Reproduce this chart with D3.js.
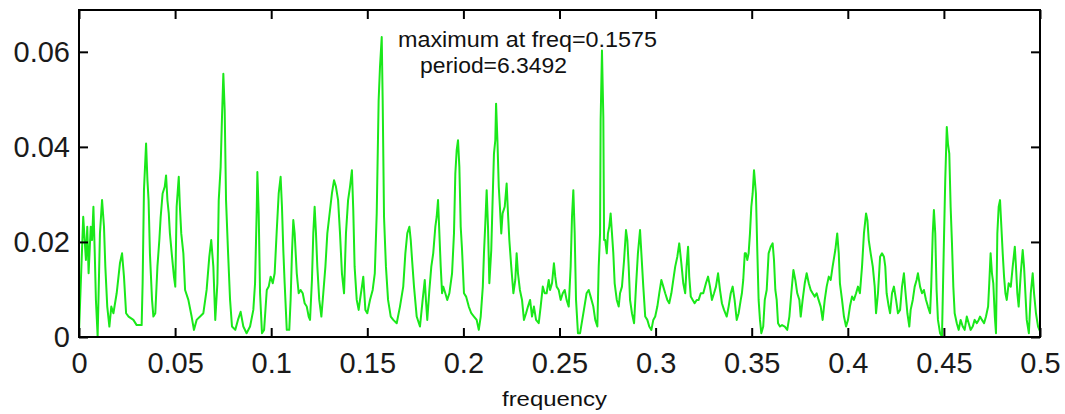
<!DOCTYPE html>
<html>
<head>
<meta charset="utf-8">
<script src="https://cdn.jsdelivr.net/npm/d3@7"></script>
<style>
  html, body { margin: 0; padding: 0; background: #fff; }
  svg { display: block; font-family: "Liberation Sans", Arial, sans-serif; }
</style>
</head>
<body>
<svg id="chart" width="1065" height="414"></svg>
<script>
// periodogram: [frequency, power]
const band1 = [[0,0.0010],[0.0022,0.0253],[0.0036,0.0162],[0.0043,0.0232],[0.0050,0.0134],[0.0061,0.0232],[0.0068,0.0204],[0.0075,0.0274],[0.0082,0.0176],[0.0088,0.0078],[0.0097,0.0001],[0.0109,0.0218],[0.0120,0.0288],[0.0130,0.0232],[0.0137,0.0148],[0.0147,0.0064],[0.0158,0.0022],[0.0168,0.0064],[0.0179,0.0050],[0.0196,0.0092],[0.0213,0.0155],[0.0224,0.0176],[0.0234,0.0127],[0.0245,0.0050],[0.0258,0.0043],[0.0283,0.0036],[0.0300,0.0025],[0.0326,0.0025],[0.0331,0.0113],[0.0338,0.0309],[0.0349,0.0407],[0.0356,0.0330],[0.0362,0.0288],[0.0369,0.0176],[0.0380,0.0078],[0.0387,0.0043],[0.0397,0.0050],[0.0408,0.0148],[0.0418,0.0204],[0.0425,0.0253],[0.0435,0.0302],[0.0446,0.0316],[0.0453,0.0340],[0.0460,0.0288],[0.0467,0.0260],[0.0473,0.0218],[0.0484,0.0169],[0.0494,0.0127],[0.0501,0.0106],[0.0508,0.0274],[0.0519,0.0337],[0.0525,0.0274],[0.0532,0.0218],[0.0543,0.0176],[0.0552,0.0099],[0.0569,0.0078],[0.0586,0.0043],[0.0598,0.0015],[0.0612,0.0036],[0.0630,0.0043],[0.0647,0.0050],[0.0664,0.0099],[0.0678,0.0169],[0.0688,0.0204],[0.0699,0.0148],[0.0709,0.0036],[0.0720,0.0113],[0.0727,0.0288],[0.0737,0.0358],[0.0744,0.0463],[0.0751,0.0554],[0.0758,0.0477],[0.0765,0.0288],[0.0775,0.0183],[0.0786,0.0078],[0.0796,0.0022],[0.0813,0.0015],[0.0827,0.0036],[0.0841,0.0053],[0.0855,0.0022],[0.0872,0.0008]];
const band2 = [[0.0890,0.0022],[0.0907,0.0057],[0.0916,0.0113],[0.0925,0.0274],[0.0928,0.0347],[0.0935,0.0260],[0.0942,0.0092],[0.0952,0.0008],[0.0963,0.0015],[0.0977,0.0099],[0.0987,0.0106],[0.0997,0.0127],[0.1008,0.0113],[0.1018,0.0134],[0.1029,0.0225],[0.1039,0.0302],[0.1049,0.0337],[0.1056,0.0274],[0.1063,0.0183],[0.1070,0.0113],[0.1081,0.0015],[0.1094,0.0015],[0.1101,0.0078],[0.1108,0.0176],[0.1115,0.0246],[0.1122,0.0218],[0.1133,0.0134],[0.1143,0.0092],[0.1153,0.0099],[0.1164,0.0092],[0.1174,0.0071],[0.1185,0.0064],[0.1195,0.0043],[0.1202,0.0036],[0.1212,0.0120],[0.1219,0.0218],[0.1226,0.0274],[0.1233,0.0218],[0.1240,0.0148],[0.1250,0.0078],[0.1261,0.0043],[0.1271,0.0092],[0.1282,0.0148],[0.1292,0.0218],[0.1302,0.0253],[0.1316,0.0302],[0.1327,0.0330],[0.1337,0.0316],[0.1348,0.0288],[0.1358,0.0218],[0.1368,0.0134],[0.1379,0.0092],[0.1389,0.0218],[0.1400,0.0288],[0.1410,0.0316],[0.1420,0.0351],[0.1427,0.0267],[0.1434,0.0148],[0.1445,0.0078],[0.1455,0.0057],[0.1462,0.0078],[0.1472,0.0106],[0.1479,0.0127],[0.1490,0.0057],[0.1500,0.0050],[0.1514,0.0078],[0.1528,0.0099],[0.1539,0.0134],[0.1549,0.0260],[0.1559,0.0498],[0.1566,0.0568],[0.1575,0.0631],[0.1580,0.0498],[0.1587,0.0253],[0.1597,0.0148],[0.1608,0.0078],[0.1622,0.0043],[0.1635,0.0036],[0.1653,0.0029],[0.1670,0.0064],[0.1687,0.0106],[0.1698,0.0176],[0.1708,0.0218],[0.1719,0.0232],[0.1726,0.0204],[0.1733,0.0162],[0.1743,0.0106],[0.1757,0.0043]];
const band3 = [[0.1774,0.0022],[0.1788,0.0078],[0.1799,0.0120],[0.1805,0.0078],[0.1812,0.0036],[0.1823,0.0099],[0.1833,0.0148],[0.1843,0.0176],[0.1854,0.0232],[0.1861,0.0253],[0.1868,0.0288],[0.1875,0.0218],[0.1882,0.0148],[0.1889,0.0092],[0.1895,0.0106],[0.1906,0.0092],[0.1916,0.0078],[0.1927,0.0092],[0.1941,0.0134],[0.1951,0.0218],[0.1958,0.0344],[0.1965,0.0393],[0.1972,0.0414],[0.1979,0.0358],[0.1986,0.0232],[0.1993,0.0183],[0.2003,0.0092],[0.2014,0.0085],[0.2028,0.0064],[0.2041,0.0050],[0.2055,0.0043],[0.2069,0.0036],[0.2080,0.0015],[0.2090,0.0043],[0.2101,0.0106],[0.2107,0.0176],[0.2114,0.0239],[0.2121,0.0309],[0.2128,0.0232],[0.2135,0.0113],[0.2145,0.0183],[0.2152,0.0288],[0.2159,0.0386],[0.2166,0.0414],[0.2170,0.0491],[0.2177,0.0414],[0.2184,0.0316],[0.2190,0.0274],[0.2197,0.0218],[0.2204,0.0260],[0.2215,0.0274],[0.2225,0.0323],[0.2232,0.0260],[0.2239,0.0204],[0.2249,0.0148],[0.2260,0.0092],[0.2270,0.0120],[0.2277,0.0176],[0.2284,0.0134],[0.2294,0.0099],[0.2305,0.0078],[0.2315,0.0036],[0.2326,0.0050],[0.2336,0.0064],[0.2347,0.0078],[0.2357,0.0043],[0.2367,0.0064],[0.2378,0.0036],[0.2392,0.0029],[0.2402,0.0064],[0.2413,0.0106],[0.2423,0.0092],[0.2433,0.0092],[0.2444,0.0120],[0.2451,0.0099],[0.2461,0.0113],[0.2471,0.0155],[0.2478,0.0127],[0.2485,0.0106],[0.2496,0.0099],[0.2506,0.0078],[0.2517,0.0092],[0.2527,0.0099],[0.2537,0.0078],[0.2548,0.0064],[0.2558,0.0148],[0.2565,0.0253],[0.2572,0.0309],[0.2579,0.0218],[0.2586,0.0078],[0.2596,0.0008],[0.2607,0.0008]];
const band4 = [[0.2627,0.0057],[0.2641,0.0092],[0.2652,0.0099],[0.2662,0.0085],[0.2676,0.0064],[0.2686,0.0036],[0.2697,0.0022],[0.2704,0.0148],[0.2711,0.0218],[0.2714,0.0456],[0.2721,0.0603],[0.2728,0.0463],[0.2732,0.0204],[0.2738,0.0204],[0.2746,0.0176],[0.2752,0.0218],[0.2759,0.0232],[0.2766,0.0260],[0.2773,0.0218],[0.2780,0.0176],[0.2787,0.0113],[0.2798,0.0078],[0.2808,0.0064],[0.2815,0.0092],[0.2825,0.0106],[0.2836,0.0162],[0.2846,0.0225],[0.2853,0.0204],[0.2860,0.0148],[0.2867,0.0078],[0.2877,0.0050],[0.2888,0.0029],[0.2898,0.0106],[0.2908,0.0176],[0.2919,0.0225],[0.2926,0.0176],[0.2936,0.0106],[0.2946,0.0043],[0.2957,0.0036],[0.2967,0.0022],[0.2978,0.0015],[0.2988,0.0036],[0.2998,0.0043],[0.3009,0.0064],[0.3019,0.0092],[0.3030,0.0120],[0.3040,0.0106],[0.3050,0.0092],[0.3061,0.0078],[0.3071,0.0071],[0.3082,0.0092],[0.3092,0.0120],[0.3102,0.0148],[0.3113,0.0169],[0.3123,0.0197],[0.3134,0.0155],[0.3144,0.0113],[0.3154,0.0092],[0.3161,0.0148],[0.3169,0.0190],[0.3175,0.0127],[0.3183,0.0085],[0.3193,0.0078],[0.3203,0.0071],[0.3214,0.0078],[0.3224,0.0078],[0.3235,0.0092],[0.3248,0.0092],[0.3262,0.0113],[0.3273,0.0127],[0.3283,0.0106],[0.3293,0.0078],[0.3304,0.0092],[0.3314,0.0106],[0.3325,0.0134],[0.3335,0.0099],[0.3345,0.0071],[0.3356,0.0057],[0.3370,0.0043],[0.3380,0.0064],[0.3391,0.0092],[0.3401,0.0106],[0.3411,0.0078],[0.3422,0.0036],[0.3432,0.0050],[0.3443,0.0078],[0.3449,0.0092],[0.3456,0.0120],[0.3464,0.0176],[0.3470,0.0176],[0.3477,0.0162],[0.3484,0.0176],[0.3491,0.0218],[0.3498,0.0274],[0.3505,0.0302],[0.3512,0.0351]];
const band5 = [[0.3522,0.0302],[0.3529,0.0183],[0.3536,0.0078],[0.3543,0.0036],[0.3550,0.0008],[0.3560,0.0022],[0.3568,0.0078],[0.3578,0.0099],[0.3588,0.0176],[0.3599,0.0190],[0.3609,0.0197],[0.3616,0.0162],[0.3623,0.0099],[0.3630,0.0078],[0.3637,0.0029],[0.3647,0.0022],[0.3658,0.0025],[0.3672,0.0022],[0.3685,0.0015],[0.3696,0.0043],[0.3706,0.0092],[0.3717,0.0141],[0.3727,0.0120],[0.3737,0.0092],[0.3748,0.0078],[0.3755,0.0043],[0.3765,0.0078],[0.3776,0.0113],[0.3786,0.0134],[0.3797,0.0113],[0.3807,0.0099],[0.3817,0.0092],[0.3828,0.0085],[0.3838,0.0092],[0.3848,0.0078],[0.3859,0.0064],[0.3869,0.0036],[0.3880,0.0078],[0.3890,0.0106],[0.3901,0.0127],[0.3911,0.0120],[0.3921,0.0148],[0.3935,0.0183],[0.3945,0.0218],[0.3953,0.0176],[0.3959,0.0113],[0.3970,0.0078],[0.3980,0.0043],[0.3991,0.0022],[0.4001,0.0036],[0.4011,0.0064],[0.4022,0.0085],[0.4032,0.0078],[0.4043,0.0092],[0.4053,0.0106],[0.4063,0.0092],[0.4074,0.0148],[0.4084,0.0218],[0.4095,0.0260],[0.4102,0.0246],[0.4109,0.0204],[0.4119,0.0176],[0.4130,0.0148],[0.4140,0.0106],[0.4147,0.0050],[0.4157,0.0092],[0.4168,0.0169],[0.4178,0.0176],[0.4188,0.0169],[0.4195,0.0148],[0.4202,0.0092],[0.4213,0.0064],[0.4220,0.0050],[0.4230,0.0092],[0.4240,0.0106],[0.4251,0.0078],[0.4261,0.0050],[0.4272,0.0057],[0.4282,0.0106],[0.4292,0.0134],[0.4299,0.0099],[0.4310,0.0050],[0.4320,0.0022]];
const band6 = [[0.4327,0.0057],[0.4338,0.0078],[0.4348,0.0106],[0.4358,0.0120],[0.4365,0.0134],[0.4376,0.0106],[0.4386,0.0092],[0.4396,0.0099],[0.4407,0.0078],[0.4417,0.0064],[0.4428,0.0050],[0.4434,0.0106],[0.4442,0.0218],[0.4448,0.0267],[0.4455,0.0218],[0.4462,0.0099],[0.4469,0.0036],[0.4480,0.0008],[0.4490,0.0001],[0.4501,0.0218],[0.4507,0.0330],[0.4515,0.0442],[0.4521,0.0407],[0.4528,0.0386],[0.4535,0.0274],[0.4542,0.0197],[0.4549,0.0106],[0.4556,0.0050],[0.4567,0.0029],[0.4577,0.0015],[0.4587,0.0036],[0.4598,0.0022],[0.4608,0.0015],[0.4619,0.0043],[0.4629,0.0029],[0.4639,0.0015],[0.4650,0.0022],[0.4660,0.0036],[0.4671,0.0029],[0.4681,0.0036],[0.4688,0.0043],[0.4698,0.0036],[0.4709,0.0029],[0.4719,0.0043],[0.4730,0.0064],[0.4736,0.0113],[0.4743,0.0176],[0.4750,0.0134],[0.4757,0.0113],[0.4765,0.0043],[0.4771,0.0008],[0.4778,0.0218],[0.4785,0.0274],[0.4792,0.0288],[0.4799,0.0232],[0.4806,0.0176],[0.4813,0.0127],[0.4820,0.0092],[0.4827,0.0078],[0.4837,0.0113],[0.4848,0.0106],[0.4858,0.0148],[0.4869,0.0190],[0.4875,0.0148],[0.4882,0.0092],[0.4889,0.0064],[0.4900,0.0134],[0.4910,0.0183],[0.4917,0.0148],[0.4924,0.0092],[0.4931,0.0036],[0.4942,0.0008],[0.4952,0.0092],[0.4962,0.0134],[0.4969,0.0092],[0.4979,0.0050],[0.4990,0.0022],[0.5000,0.0012]];

const xTicks = [0, 0.05, 0.1, 0.15, 0.2, 0.25, 0.3, 0.35, 0.4, 0.45, 0.5];
const xTickLabels = ["0", "0.05", "0.1", "0.15", "0.2", "0.25", "0.3", "0.35", "0.4", "0.45", "0.5"];
const yTicks = [0, 0.02, 0.04, 0.06];
const yTickLabels = ["0", "0.02", "0.04", "0.06"];
const noteLines = ["maximum at freq=0.1575", "period=6.3492"];
const xTitle = "frequency";

const series = [].concat(band1, band2, band3, band4, band5, band6);

const svg = d3.select("#chart");
svg.append("rect").attr("width", 1065).attr("height", 414).attr("fill", "#fff");

const plotL = 79, plotR = 1040, plotT = 10, plotB = 337;
const x = d3.scaleLinear().domain([0, 0.5]).range([plotL, plotR]);
const y = d3.scaleLinear().domain([0, 0.0688]).range([plotB, plotT]);

// the trace
const line = d3.line().x(d => x(d[0])).y(d => y(d[1]));
svg.append("path")
  .datum(series)
  .attr("d", line)
  .attr("fill", "none")
  .attr("stroke", "#1ae81a")
  .attr("stroke-width", 2)
  .attr("stroke-linejoin", "round");

// axes, ticks pointing inwards like matlab
const tick = 9;
const fmtX = d => xTickLabels[xTicks.indexOf(d)];
const fmtY = d => yTickLabels[yTicks.indexOf(d)];

svg.append("g").attr("transform", `translate(0,${plotB})`)
  .call(d3.axisBottom(x).tickValues(xTicks).tickFormat(fmtX).tickSizeInner(-tick).tickSizeOuter(0).tickPadding(15));
svg.append("g").attr("transform", `translate(${plotL},0)`)
  .call(d3.axisLeft(y).tickValues(yTicks).tickFormat(fmtY).tickSizeInner(-tick).tickSizeOuter(0).tickPadding(9));
svg.append("g").attr("transform", `translate(0,${plotT})`)
  .call(d3.axisTop(x).tickValues(xTicks).tickFormat("").tickSizeInner(-tick).tickSizeOuter(0));
svg.append("g").attr("transform", `translate(${plotR},0)`)
  .call(d3.axisRight(y).tickValues(yTicks).tickFormat("").tickSizeInner(-tick).tickSizeOuter(0));

svg.selectAll(".domain").remove();
svg.selectAll(".tick line").attr("stroke", "#000").attr("stroke-width", 2);
svg.selectAll(".tick text")
  .attr("fill", "#1a1a1a")
  .style("font-family", "'Liberation Sans', Arial, sans-serif")
  .style("font-size", "29px");

// box
svg.append("rect")
  .attr("x", plotL).attr("y", plotT)
  .attr("width", plotR - plotL).attr("height", plotB - plotT)
  .attr("fill", "none").attr("stroke", "#000").attr("stroke-width", 2);

// annotation
svg.append("text").attr("x", 398).attr("y", 47)
  .attr("textLength", 259).attr("lengthAdjust", "spacingAndGlyphs")
  .style("font-size", "22px").attr("fill", "#111").text(noteLines[0]);
svg.append("text").attr("x", 420).attr("y", 73)
  .attr("textLength", 147).attr("lengthAdjust", "spacingAndGlyphs")
  .style("font-size", "22px").attr("fill", "#111").text(noteLines[1]);

svg.append("text").attr("x", 502).attr("y", 406)
  .attr("textLength", 105).attr("lengthAdjust", "spacingAndGlyphs")
  .style("font-size", "21px").attr("fill", "#111").text(xTitle);
</script>
</body>
</html>
